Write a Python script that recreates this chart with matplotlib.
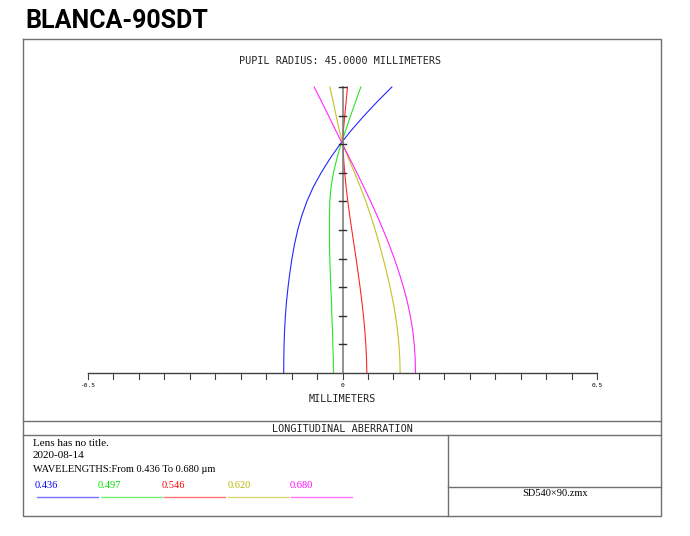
import matplotlib
matplotlib.use("Agg")
import matplotlib.pyplot as plt

# longitudinal aberration (mm) vs relative pupil
pupil = [0.0, 0.05, 0.1, 0.15, 0.2, 0.25, 0.3, 0.35, 0.4, 0.45, 0.5,
         0.55, 0.6, 0.65, 0.7, 0.75, 0.8, 0.85, 0.9, 0.95, 1.0]
w436 = [-0.1155, -0.1153, -0.1148, -0.1138, -0.1122, -0.110, -0.107, -0.1035, -0.0993, -0.0943, -0.088,
        -0.080, -0.070, -0.0575, -0.042, -0.0245, -0.0046, 0.018, 0.0426, 0.069, 0.097]
w497 = [-0.0177, -0.018, -0.019, -0.0196, -0.021, -0.0216, -0.023, -0.024, -0.025, -0.0255, -0.0255,
        -0.0255, -0.025, -0.0225, -0.0178, -0.011, -0.003, 0.0065, 0.016, 0.026, 0.036]
w546 = [0.0478, 0.0472, 0.0458, 0.0438, 0.0412, 0.038, 0.0345, 0.0307, 0.0267, 0.0225, 0.0183,
        0.0142, 0.0104, 0.0071, 0.0044, 0.0022, 0.0009, 0.0018, 0.0045, 0.0072, 0.0098]
w620 = [0.1133, 0.1126, 0.1108, 0.108, 0.1042, 0.0993, 0.0935, 0.087, 0.080, 0.0725, 0.0643,
        0.0555, 0.0458, 0.0352, 0.0238, 0.0118, 0.0007, -0.0065, -0.0125, -0.0185, -0.025]
w680 = [0.1434, 0.1428, 0.141, 0.1378, 0.1332, 0.1272, 0.1198, 0.1113, 0.1018, 0.0913, 0.080,
        0.068, 0.0553, 0.042, 0.0283, 0.0142, 0.0, -0.0138, -0.0276, -0.0415, -0.0557]

wl_labels = ["0.436", "0.497", "0.546", "0.620", "0.680"]
wl_colors = ["#0000ff", "#00e000", "#ff0000", "#b8b800", "#ff00ff"]
series = [w436, w497, w546, w620, w680]

W, H = 690, 536
fig = plt.figure(figsize=(6.9, 5.36), dpi=100)

# page overlay in pixel coords (y down)
pg = fig.add_axes([0, 0, 1, 1])
pg.set_xlim(0, W)
pg.set_ylim(H, 0)
pg.axis("off")

gray = "#707070"
mono = "DejaVu Sans Mono"
serif = "Liberation Serif"

pg.text(25, 21, "BLANCA-90SDT", fontsize=18, fontweight="bold", family="Roboto",
        va="center", ha="left")

# frames
pg.plot([23, 661, 661, 23, 23], [39, 39, 516, 516, 39], color=gray, lw=1)
pg.plot([23, 661], [421, 421], color=gray, lw=1)
pg.plot([23, 661], [435, 435], color=gray, lw=1)
pg.plot([448, 448], [435, 516], color=gray, lw=1)
pg.plot([448, 661], [487, 487], color=gray, lw=1)

txt = "#222222"
pg.text(340, 61, "PUPIL RADIUS: 45.0000 MILLIMETERS", fontsize=7.3, family=mono,
        ha="center", va="center", color=txt)
pg.text(342, 399, "MILLIMETERS", fontsize=7.3, family=mono, ha="center", va="center", color=txt)
pg.text(342, 429, "LONGITUDINAL ABERRATION", fontsize=7.3, family=mono, ha="center", va="center",
        color=txt)
pg.text(555, 493, "SD540×90.zmx", fontsize=7.5, family=serif, ha="center", va="center")

pg.text(33, 444, "Lens has no title.", fontsize=8, family=serif, va="center")
pg.text(33, 456, "2020-08-14", fontsize=8, family=serif, va="center")
pg.text(33, 469, "WAVELENGTHS:From 0.436 To 0.680 µm", fontsize=7.5, family=serif, va="center")

leg_x = [35, 98, 162, 228, 290]
for i in range(len(wl_labels)):
    pg.text(leg_x[i], 486, wl_labels[i], fontsize=7.5, family=serif, color=wl_colors[i],
            va="center")
    pg.plot([37 + 63.5 * i, 98 + 63.5 * i], [497, 497], color=wl_colors[i], lw=1, alpha=0.55)

# data axes
x0, x1, ytop, ybot = 88, 597, 87, 373
ax = fig.add_axes([x0 / W, 1 - ybot / H, (x1 - x0) / W, (ybot - ytop) / H])
ax.set_xlim(-0.5, 0.5)
ax.set_ylim(0, 1)
ax.axis("off")
ax.patch.set_alpha(0)

for s, c in zip(series, wl_colors):
    ax.plot(s, pupil, color=c, lw=0.8, alpha=0.85, clip_on=False)

ax.plot([-0.5, 0.5], [0, 0], color="#404040", lw=1, clip_on=False)
ax.plot([0, 0], [0, 1], color="#808080", lw=1.2, clip_on=False)
for k in range(21):
    xt = -0.5 + 0.05 * k
    ax.plot([xt, xt], [0, -0.02], color="#404040", lw=0.8, clip_on=False)
for k in range(1, 11):
    ax.plot([-0.006, 0.006], [k / 10, k / 10], color="#303030", lw=1, clip_on=False)
for xt, lab in [(-0.5, "-0.5"), (0, "0"), (0.5, "0.5")]:
    ax.text(xt, -0.035, lab, fontsize=4.5, family=mono, ha="center", va="top")

fig.savefig("out.png", dpi=100)
